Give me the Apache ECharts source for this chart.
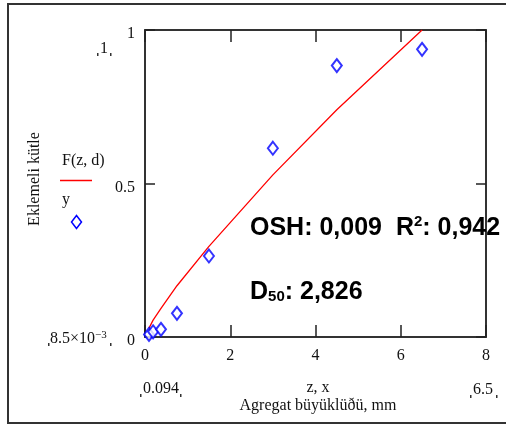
<!DOCTYPE html>
<html>
<head>
<meta charset="utf-8">
<script src="https://cdn.jsdelivr.net/npm/echarts@6/dist/echarts.min.js"></script>
<style>html,body{margin:0;padding:0;background:#fff;}#c{width:506px;height:425px;}</style>
</head>
<body>
<div id="c"></div>
<script>
// Data
var sieveSizes = [0.094, 0.19, 0.375, 0.75, 1.5, 3.0, 4.5, 6.5];      // x (mm)
var measured   = [0.0085, 0.017, 0.025, 0.077, 0.264, 0.615, 0.884, 0.937]; // y points
var fitted     = [0.029, 0.055, 0.093, 0.167, 0.295, 0.528, 0.740, 1.0];   // F(z,d)
var xTicks = [0, 2, 4, 6, 8];
var yTicks = [0, 0.5, 1];

var serif = '"Liberation Serif", "Times New Roman", serif';
var sans = '"Liberation Sans", Arial, sans-serif';

var chart = echarts.init(document.getElementById('c'), null, {renderer: 'canvas'});

function pairs(xs, ys) { return xs.map(function (x, i) { return [x, ys[i]]; }); }

var axisLine = {show: true, onZero: false, lineStyle: {color: '#333', width: 2}};
var option = {
  animation: false,
  backgroundColor: '#fff',
  grid: {left: 145, top: 30, width: 341, height: 307, containLabel: false},
  xAxis: [{
    type: 'value', position: 'bottom', min: 0, max: 8, interval: 2,
    axisLine: axisLine,
    axisTick: {show: true, inside: true, length: 12, lineStyle: {color: '#222', width: 1.5}},
    axisLabel: {color: '#111', fontFamily: serif, fontSize: 16, margin: 11},
    splitLine: {show: false}
  }, {
    type: 'value', position: 'top', min: 0, max: 8, interval: 2,
    axisLine: axisLine,
    axisTick: {show: true, inside: true, length: 12, lineStyle: {color: '#222', width: 1.5}},
    axisLabel: {show: false},
    splitLine: {show: false}
  }],
  yAxis: [{
    type: 'value', position: 'left', min: 0, max: 1, interval: 0.5,
    axisLine: axisLine,
    axisTick: {show: true, inside: true, length: 10, lineStyle: {color: '#222', width: 1.5}},
    axisLabel: {color: '#111', fontFamily: serif, fontSize: 16, margin: 10,
      formatter: function (v) { return '{a|' + (v === 0.5 ? '0.5' : String(v)) + '}'; },
      rich: {a: {fontFamily: serif, fontSize: 16, color: '#111', padding: [8, 0, 0, 0]}}},
    splitLine: {show: false}
  }, {
    type: 'value', position: 'right', min: 0, max: 1, interval: 0.5,
    axisLine: axisLine,
    axisTick: {show: true, inside: true, length: 10, lineStyle: {color: '#222', width: 1.5}},
    axisLabel: {show: false},
    splitLine: {show: false}
  }],
  series: [{
    type: 'line', xAxisIndex: 0, yAxisIndex: 0,
    data: pairs(sieveSizes, fitted),
    showSymbol: false, symbol: 'none',
    lineStyle: {color: '#ff0000', width: 1.3},
    z: 2
  }, {
    type: 'scatter', xAxisIndex: 0, yAxisIndex: 0,
    data: pairs(sieveSizes, measured),
    symbol: 'emptyDiamond', symbolSize: [10, 13],
    itemStyle: {color: '#0000ff', borderColor: '#0000ff', borderWidth: 1.5},
    z: 3
  }],
  graphic: [
    {type: 'rect', shape: {x: 8, y: 4, width: 520, height: 419}, style: {fill: 'none', stroke: '#333', lineWidth: 2}, silent: true},
    // axis-limit labels
    {type: 'text', x: 104, y: 49, style: {text: '1', font: '16px ' + serif, fill: '#111', align: 'center', verticalAlign: 'middle'}},
    {type: 'rect', shape: {x: 97, y: 53, width: 1.5, height: 3}, style: {fill: '#333'}},
    {type: 'rect', shape: {x: 110, y: 53, width: 1.5, height: 3}, style: {fill: '#333'}},
    {type: 'text', x: 50, y: 339, style: {rich: {a: {font: '16px ' + serif, fill: '#111'}, s: {font: '11px ' + serif, fill: '#111', verticalAlign: 'top', padding: [0, 0, 8, 0]}}, text: '{a|8.5×10}{s|−3}', align: 'left', verticalAlign: 'middle'}},
    {type: 'rect', shape: {x: 48, y: 343, width: 1.5, height: 3}, style: {fill: '#333'}},
    {type: 'rect', shape: {x: 110, y: 343, width: 1.5, height: 3}, style: {fill: '#333'}},
    {type: 'text', x: 161, y: 389, style: {text: '0.094', font: '16px ' + serif, fill: '#111', align: 'center', verticalAlign: 'middle'}},
    {type: 'rect', shape: {x: 140, y: 394, width: 1.5, height: 3}, style: {fill: '#333'}},
    {type: 'rect', shape: {x: 180, y: 394, width: 1.5, height: 3}, style: {fill: '#333'}},
    {type: 'text', x: 483, y: 390, style: {text: '6.5', font: '16px ' + serif, fill: '#111', align: 'center', verticalAlign: 'middle'}},
    {type: 'rect', shape: {x: 470, y: 395, width: 1.5, height: 3}, style: {fill: '#333'}},
    {type: 'rect', shape: {x: 496, y: 395, width: 1.5, height: 3}, style: {fill: '#333'}},
    // axis titles
    {type: 'text', x: 318, y: 388, style: {text: 'z, x', font: '16px ' + serif, fill: '#111', align: 'center', verticalAlign: 'middle'}},
    {type: 'text', x: 318, y: 406, style: {text: 'Agregat büyüklüðü, mm', font: '16px ' + serif, fill: '#111', align: 'center', verticalAlign: 'middle'}},
    {type: 'text', x: 35, y: 179, rotation: Math.PI / 2, style: {text: 'Eklemeli kütle', font: '16px ' + serif, fill: '#111', align: 'center', verticalAlign: 'middle'}},
    // legend
    {type: 'text', x: 62, y: 161, style: {text: 'F(z, d)', font: '16px ' + serif, fill: '#111', align: 'left', verticalAlign: 'middle'}},
    {type: 'line', shape: {x1: 60, y1: 180.5, x2: 92, y2: 180.5}, style: {stroke: '#ff0000', lineWidth: 1.5}},
    {type: 'text', x: 62, y: 200, style: {text: 'y', font: '16px ' + serif, fill: '#111', align: 'left', verticalAlign: 'middle'}},
    {type: 'polygon', shape: {points: [[76.5, 215.5], [81.5, 222], [76.5, 228.5], [71.5, 222]]}, style: {fill: 'none', stroke: '#0000ff', lineWidth: 1.5}},
    // annotations
    {type: 'text', x: 250, y: 228, z: 10, style: {rich: {a: {font: 'bold 25px ' + sans, fill: '#000'}, s: {font: 'bold 15px ' + sans, fill: '#000', padding: [0, 0, 12, 0]}}, text: '{a|OSH: 0,009  R}{s|2}{a|: 0,942}', align: 'left', verticalAlign: 'middle'}},
    {type: 'text', x: 250, y: 292, z: 10, style: {rich: {a: {font: 'bold 25px ' + sans, fill: '#000'}, s: {font: 'bold 15px ' + sans, fill: '#000', padding: [10, 0, 0, 0]}}, text: '{a|D}{s|50}{a|: 2,826}', align: 'left', verticalAlign: 'middle'}}
  ]
};
chart.setOption(option);
</script>
</body>
</html>
